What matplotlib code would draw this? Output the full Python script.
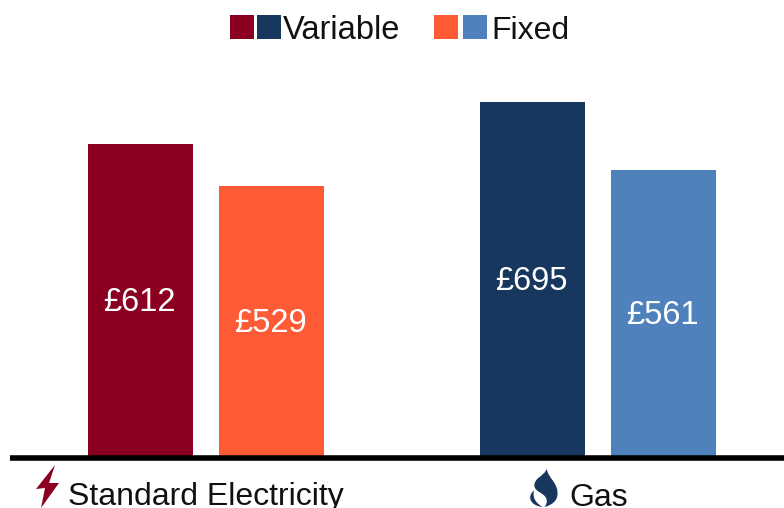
import matplotlib
matplotlib.use("Agg")
import matplotlib.pyplot as plt
from matplotlib.patches import PathPatch, Polygon, Rectangle
from matplotlib.path import Path

plt.rcParams['font.family'] = ['Liberation Sans', 'DejaVu Sans']

# values
bar_values = [612, 529, 695, 561]
bar_labels = ["£612", "£529", "£695", "£561"]
bar_colors = ["#8B0020", "#FF5A36", "#17375E", "#4F81BD"]
group_names = ["Standard Electricity", "Gas"]
legend_names = ["Variable", "Fixed"]

W, H = 784, 508
BASE = 457  # baseline, pixels from the top
PX_PER_POUND = 0.5114

fig = plt.figure(figsize=(W / 100, H / 100), dpi=100)

# bars: x axis in pixels, y axis in pounds
ax = fig.add_axes([0, 1 - BASE / H, 1, BASE / H])
ax.set_xlim(0, W)
ax.set_ylim(0, BASE / PX_PER_POUND)
centers = [140.5, 271.5, 532.5, 663.5]
bars = ax.bar(centers, bar_values, width=105, color=bar_colors)
for b, lab in zip(bars, bar_labels):
    ax.annotate(lab, (b.get_x() + b.get_width() / 2, b.get_height() / 2), xytext=(-0.7, -1.5),
                textcoords="offset points", ha="center", va="center", color="white", fontsize=23.5)
ax.axis("off")

# overlay in pixel coordinates for axis line, icons, legend
ov = fig.add_axes([0, 0, 1, 1])
ov.set_xlim(0, W)
ov.set_ylim(H, 0)
ov.axis("off")
ov.patch.set_alpha(0)

ov.plot([10, W], [457.7, 457.7], color="black", lw=4, solid_capstyle="butt")

# legend
ov.add_patch(Rectangle((230, 15), 24, 24, color=bar_colors[0], lw=0))
ov.add_patch(Rectangle((257, 15), 24, 24, color=bar_colors[2], lw=0))
ov.add_patch(Rectangle((434, 15), 24, 24, color=bar_colors[1], lw=0))
ov.add_patch(Rectangle((463, 15), 24, 24, color=bar_colors[3], lw=0))
ov.text(283, 27, legend_names[0], fontsize=23.5, va="center_baseline", ha="left", color="#111111")
ov.text(491, 27.5, legend_names[1], fontsize=23, va="center_baseline", ha="left", color="#111111")

# category labels
ov.text(68, 505.5, group_names[0], fontsize=23, va="baseline", ha="left", color="#111111")
ov.text(569, 505.5, group_names[1], fontsize=23, va="baseline", ha="left", color="#111111")

# lightning icon
ov.add_patch(Polygon([(55, 465), (36, 489), (45, 488), (41, 508), (59, 483), (49, 483)],
                     closed=True, color=bar_colors[0], lw=0))

# flame icon
def fz(x, y):
    return (522 + x / 3, 465 + y / 3)

verts = [fz(74, 10), fz(76, 38), fz(112, 55), fz(106, 92), fz(104, 108), fz(90, 120), fz(68, 126),
         fz(82, 105), fz(72, 92), fz(50, 80), fz(28, 66), fz(38, 48), fz(50, 38),
         fz(62, 28), fz(72, 22), fz(74, 10)]
codes = [Path.MOVETO] + [Path.CURVE4] * 15
ov.add_patch(PathPatch(Path(verts, codes), color=bar_colors[2], lw=0))
verts2 = [fz(36, 76), fz(14, 95), fz(24, 122), fz(62, 126), fz(44, 116), fz(30, 100), fz(36, 76)]
codes2 = [Path.MOVETO] + [Path.CURVE4] * 6
ov.add_patch(PathPatch(Path(verts2, codes2), color=bar_colors[2], lw=0))

fig.savefig("out.png", dpi=100)
